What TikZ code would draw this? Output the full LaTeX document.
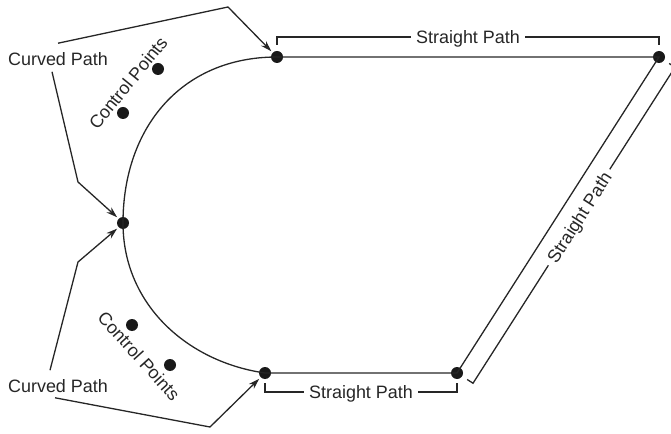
\documentclass[tikz,border=0pt]{standalone}
\usepackage{fontspec}
\setmainfont{Liberation Sans}
\usetikzlibrary{arrows.meta,calc}

\begin{document}
\begin{tikzpicture}[x=1bp,y=-1bp,
  line/.style={draw=black!85, line width=1.3bp},
  pathdot/.style={circle, fill=black!90, inner sep=0pt, minimum size=12bp},
  ctrldot/.style={circle, fill=black!90, inner sep=0pt, minimum size=12bp},
  lbl/.style={font=\fontsize{18}{21}\selectfont, text=black!85, inner sep=1bp},
  callout/.style={line, -{Stealth[length=11bp,width=7bp]}, shorten >=2bp},
  gaplbl/.style={lbl, fill=white, inner xsep=5bp, inner ysep=1bp, text depth=0pt}
]
\useasboundingbox (0,0) rectangle (671,434);

% end points of the straight and curved pieces
\node[pathdot] (p1) at (277,57) {};
\node[pathdot] (p2) at (659,57) {};
\node[pathdot] (p3) at (123,223) {};
\node[pathdot] (p4) at (265,373) {};
\node[pathdot] (p5) at (457,373) {};

% the closed path
\draw[line] (p4.center) -- (p5.center) -- (p2.center) -- (p1.center);
\draw[line] (p1.center) .. controls (182,57) and (123,127) .. (p3.center)
            .. controls (123,305) and (188,362) .. (p4.center);

% control points
\node[ctrldot] (c1) at (158,69) {};
\node[ctrldot] (c2) at (123,113) {};
\node[ctrldot] (c3) at (132,325) {};
\node[ctrldot] (c4) at (170,365) {};
\node[lbl, rotate=51] (ctA) at (128,83) {Control Points};
\node[lbl, rotate=-48] (ctB) at (139,356) {Control Points};

% labels with callouts
\node[lbl] (cpA) at (58,59) {Curved Path};
\node[lbl] (cpB) at (58,386) {Curved Path};
\coordinate (kA1) at (228,7);
\coordinate (kA2) at (78,182);
\coordinate (kB1) at (78,262);
\coordinate (kB2) at (210,427);
\draw[callout] ([yshift=8bp]cpA.north) -- (kA1) -- (p1.north west);
\draw[callout] ([xshift=-6bp,yshift=-5bp]cpA.south) -- (kA2) -- (p3.north west);
\draw[callout] ([xshift=-8bp,yshift=8bp]cpB.north) -- (kB1) -- (p3.south west);
\draw[callout] ([xshift=-3bp,yshift=-4bp]cpB.south) -- (kB2) -- (p4.south west);

% brackets along the straight pieces
\draw[line] ([yshift=12bp]p1.center) -- ([yshift=20bp]p1.center)
  -- ([yshift=20bp]p2.center) node[gaplbl, midway] {Straight Path}
  -- ([yshift=12bp]p2.center);
\draw[line] ([yshift=-10bp]p4.center) -- ([yshift=-19bp]p4.center)
  -- ([yshift=-19bp]p5.center) node[gaplbl, midway] {Straight Path}
  -- ([yshift=-10bp]p5.center);
\draw[line] ($(p5.center)!12bp!-90:(p2.center)$) -- ($(p5.center)!19bp!-90:(p2.center)$)
  -- ($(p2.center)!19bp!90:(p5.center)$) node[gaplbl, pos=0.525, sloped] {Straight Path}
  -- ($(p2.center)!12bp!90:(p5.center)$);
\end{tikzpicture}
\end{document}
